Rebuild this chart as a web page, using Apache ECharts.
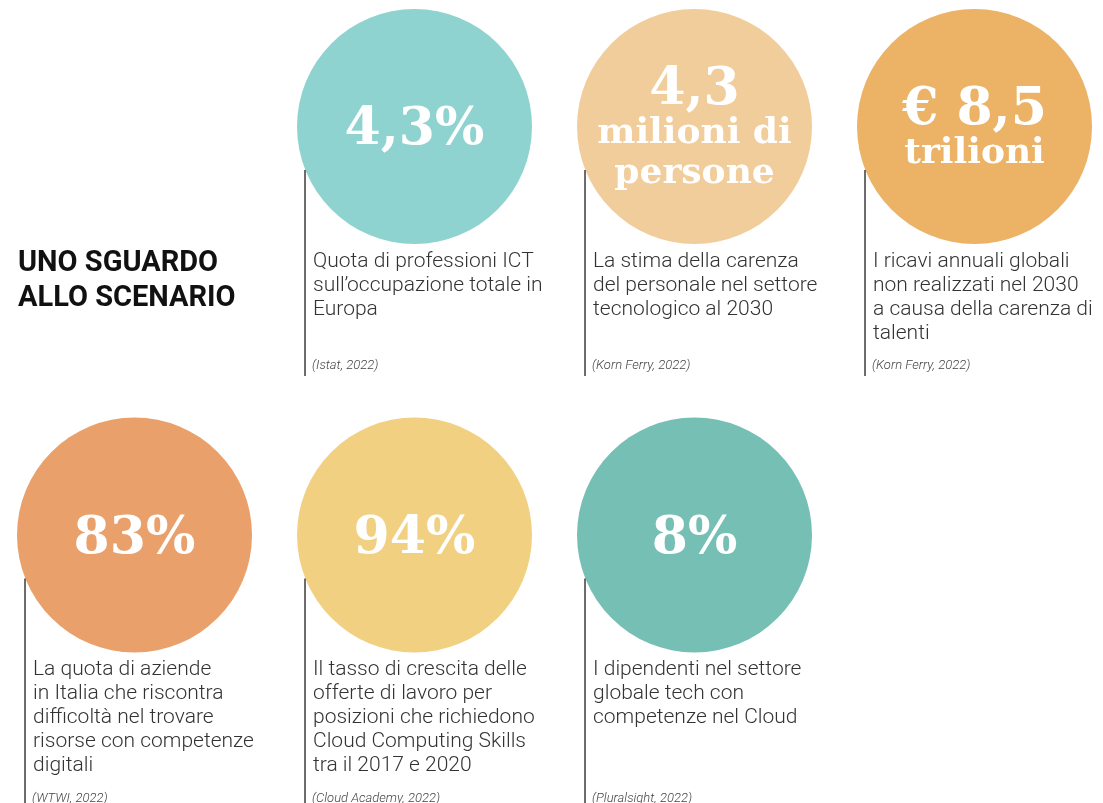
<!DOCTYPE html>
<html>
<head>
<meta charset="utf-8">
<script src="https://cdn.jsdelivr.net/npm/echarts@6/dist/echarts.min.js"></script>
<style>
  html, body { margin: 0; padding: 0; background: #fff; }
  #main { width: 1103px; height: 803px; }
</style>
</head>
<body>
<div id="main"></div>
<script>
// posizione di ogni cerchio: colonna e riga della griglia
const cols = [1, 2, 3, 0, 1, 2]
const rows = [0, 0, 0, 1, 1, 1]
// cifre dentro i cerchi (prima riga grande, le altre più piccole)
const figures = [
  ['4,3%'],
  ['4,3', 'milioni di', 'persone'],
  ['€ 8,5', 'trilioni'],
  ['83%'],
  ['94%'],
  ['8%']
]
const descriptions = [
  ['Quota di professioni ICT', 'sull’occupazione totale in', 'Europa'],
  ['La stima della carenza', 'del personale nel settore', 'tecnologico al 2030'],
  ['I ricavi annuali globali', 'non realizzati nel 2030', 'a causa della carenza di', 'talenti'],
  ['La quota di aziende', 'in Italia che riscontra', 'difficoltà nel trovare', 'risorse con competenze', 'digitali'],
  ['Il tasso di crescita delle', 'offerte di lavoro per', 'posizioni che richiedono', 'Cloud Computing Skills', 'tra il 2017 e 2020'],
  ['I dipendenti nel settore', 'globale tech con', 'competenze nel Cloud']
]
const sources = [
  '(Istat, 2022)', '(Korn Ferry, 2022)', '(Korn Ferry, 2022)',
  '(WTWI, 2022)', '(Cloud Academy, 2022)', '(Pluralsight, 2022)'
]
const colors = ['#8fd3d1', '#f2cd9c', '#ecb266', '#e9a06b', '#f2d082', '#76bfb4']
const title = 'UNO SGUARDO\nALLO SCENARIO'

const LINE_H = 24
// righe max di testo per ogni riga della griglia, serve per allineare le fonti
const maxLines = {}
rows.forEach((r, i) => {
  maxLines[r] = Math.max(maxLines[r] || 0, descriptions[i].length)
})

const myChart = echarts.init(document.getElementById('main'))

const circleData = cols.map((c, i) => ({
  value: [c, rows[i]],
  itemStyle: { color: colors[i], opacity: 1 },
  label: {
    formatter: figures[i]
      .map((t, k) => (k === 0 ? '{big|' + t + '}' : '{word|' + t + '}'))
      .join('\n')
  }
}))

const option = {
  animation: false,
  title: {
    text: title,
    left: 18,
    top: 246,
    padding: 0,
    textStyle: {
      fontFamily: 'Roboto',
      fontWeight: 'bold',
      fontSize: 29,
      lineHeight: 35,
      color: '#111'
    }
  },
  grid: { left: 0, right: 0, top: 0, bottom: 0 },
  xAxis: {
    type: 'value',
    min: -0.4804,
    max: 3.4589,
    show: false
  },
  yAxis: {
    type: 'value',
    inverse: true,
    min: -0.3097,
    max: 1.656,
    show: false
  },
  series: [
    {
      type: 'scatter',
      symbol: 'circle',
      symbolSize: 235,
      data: circleData,
      itemStyle: { opacity: 1 },
      label: {
        show: true,
        position: 'inside',
        offset: [0, 4],
        color: '#fff',
        rich: {
          big: {
            fontFamily: 'DejaVu Serif',
            fontWeight: 'bold',
            fontSize: 52,
            lineHeight: 46,
            color: '#fff'
          },
          word: {
            fontFamily: 'DejaVu Serif',
            fontWeight: 'bold',
            fontSize: 36,
            lineHeight: 40,
            color: '#fff'
          }
        }
      },
      emphasis: { disabled: true },
      z: 2
    },
    {
      type: 'custom',
      coordinateSystem: 'cartesian2d',
      clip: false,
      z: 3,
      data: cols.map((c, i) => [c, rows[i], i]),
      renderItem: function (params, api) {
        const i = api.value(2)
        const p = api.coord([api.value(0), api.value(1)])
        const lineX = p[0] - 109.5
        const textTop = p[1] + 123
        const srcY = p[1] + 121.5 + maxLines[rows[i]] * LINE_H + 22
        return {
          type: 'group',
          children: [
            {
              type: 'line',
              shape: { x1: lineX, y1: p[1] + 43.5, x2: lineX, y2: srcY + 10 },
              style: { stroke: '#3c3c3c', lineWidth: 1.5 }
            },
            {
              type: 'text',
              style: {
                x: lineX + 8,
                y: textTop,
                text: descriptions[i].join('\n'),
                fontFamily: 'Roboto',
                fontWeight: 300,
                fontSize: 21,
                lineHeight: LINE_H,
                fill: '#333',
                align: 'left',
                verticalAlign: 'top'
              }
            },
            {
              type: 'text',
              style: {
                x: lineX + 7,
                y: srcY,
                text: sources[i],
                fontFamily: 'Roboto',
                fontStyle: 'italic',
                fontWeight: 300,
                fontSize: 13,
                fill: '#444',
                align: 'left',
                verticalAlign: 'middle'
              }
            }
          ]
        }
      }
    }
  ]
}
myChart.setOption(option)
</script>
</body>
</html>
